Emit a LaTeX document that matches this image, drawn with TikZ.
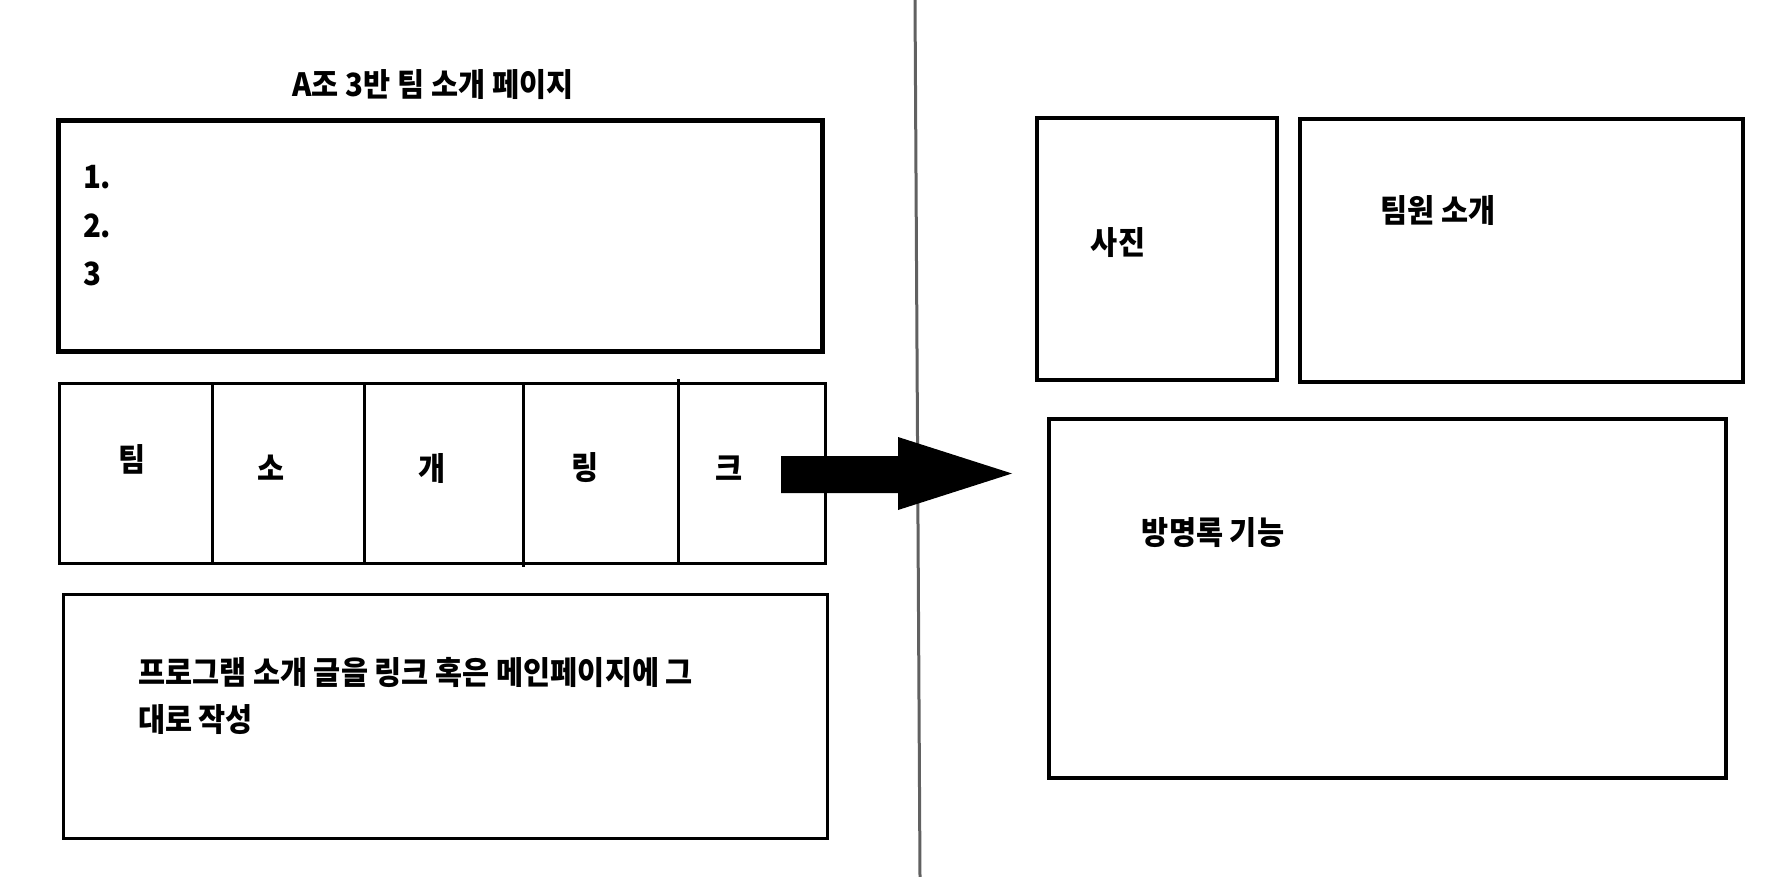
\documentclass[tikz,border=0pt]{standalone}
\usepackage{fontspec}
\setmainfont{Noto Sans CJK KR}[FakeStretch=0.92]
\begin{document}
\begin{tikzpicture}[x=1pt,y=-1pt,
  lbl/.style={inner sep=0pt, outer sep=0pt, font=\fontsize{32}{38}\selectfont\bfseries},
  frame/.style={draw, rectangle, inner sep=0pt, outer sep=0pt, anchor=north west, line width=3pt},
  thickframe/.style={frame, line width=5pt},
  midframe/.style={frame, line width=3.5pt},
  cell/.style={frame, minimum height=180pt},
  divider/.style={draw=black!62, line width=3pt}
]
\useasboundingbox (0,0) rectangle (1774,877);

% vertical divider
\coordinate (dtop) at (915,0);
\coordinate (dbot) at (920,877);
\draw[divider] (dtop) -- (dbot);

% title
\node[lbl] (title) at (433,85) {A조 3반 팀 소개 페이지};

% list box
\node[thickframe, minimum width=764pt, minimum height=230pt] (listbox) at (58,121) {};
\node[lbl, anchor=west] (i1) at (83,177) {1.};
\node[lbl, anchor=west] (i2) at (83,226) {2.};
\node[lbl, anchor=west] (i3) at (83,274) {3};

% link table
\node[cell, minimum width=153pt] (c1) at (59,383) {};
\node[cell, minimum width=152pt] (c2) at (212,383) {};
\node[cell, minimum width=159pt] (c3) at (364,383) {};
\node[cell, minimum width=155pt] (c4) at (523,383) {};
\node[cell, minimum width=147pt] (c5) at (678,383) {};
\draw[line width=3pt] (c5.north west) ++(0,-4) -- ([yshift=4pt]c5.south west);
\draw[line width=3pt] (c4.south west) -- ++(0,4);
\node[lbl] (t1) at (132,459) {팀};
\node[lbl] (t2) at (271,468) {소};
\node[lbl] (t3) at (432,468) {개};
\node[lbl] (t4) at (585,468) {링};
\node[lbl] (t5) at (729,468) {크};

% program intro box
\node[frame, minimum width=764pt, minimum height=244pt] (progbox) at (63.5,594.5) {};
\node[lbl, anchor=west] (p1) at (138,672) {프로그램 소개 글을 링크 혹은 메인페이지에 그};
\node[lbl, anchor=west] (p2) at (138,720) {대로 작성};

% big arrow
\fill (781,456) -- (898,456) -- (898,437) -- (1012,473.5) -- (898,510) -- (898,493) -- (781,493) -- cycle;

% right side
\node[midframe, minimum width=240pt, minimum height=262pt] (photo) at (1037,118) {};
\node[lbl] (photot) at (1118,243) {사진};
\node[midframe, minimum width=443pt, minimum height=263pt] (member) at (1300,119) {};
\node[lbl] (membert) at (1438,211) {팀원 소개};
\node[midframe, minimum width=677pt, minimum height=359pt] (guest) at (1049,419) {};
\node[lbl] (guestt) at (1213,533) {방명록 기능};
\end{tikzpicture}
\end{document}
